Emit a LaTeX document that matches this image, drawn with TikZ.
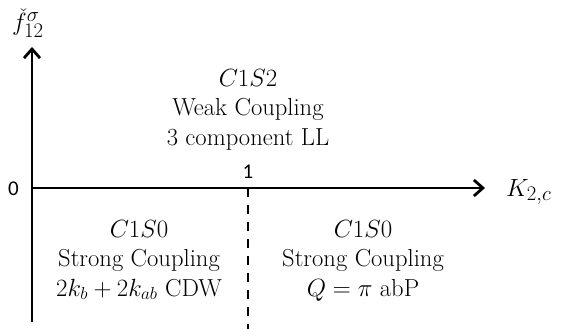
\documentclass[tikz,border=0pt]{standalone}
\usepackage{fontspec}
\newfontfamily\tickfont{Carlito}
\usetikzlibrary{arrows.meta}
\begin{document}
\begin{tikzpicture}[x=1pt,y=-1pt,
  axis/.style={line width=2.8pt,-{Straight Barb[length=9pt,width=16pt,line width=2.8pt]}},
  phase/.style={align=center,inner sep=0pt,anchor=north,font=\fontsize{24.6}{29.5}\selectfont},
  tick/.style={inner sep=0pt,font=\tickfont\fontsize{21}{24}\selectfont},
  divider/.style={line width=2.8pt,dash pattern=on 9pt off 8pt}]
\useasboundingbox (0,0) rectangle (568,329);
\coordinate (O) at (32,188);
\coordinate (ybot) at (32,322);
\coordinate (ytop) at (32,47);
\coordinate (xend) at (485,188);
\coordinate (one) at (248,188);
\coordinate (onebot) at (248,329);
\draw[divider] (one) -- (onebot);
\draw[axis] (ybot) -- (ytop);
\draw[axis] (O) -- (xend);
\node[tick,anchor=east] (zero) at (19,189) {0};
\node[tick,anchor=base] (onelabel) at (248,178) {1};
\node[inner sep=0pt,anchor=base west,font=\fontsize{31}{36}\selectfont] (xlabel) at (506,196) {$K_{2,c}$};
\node[inner sep=0pt,anchor=base west,font=\fontsize{28}{32}\selectfont] (ylabel) at (12,31) {$\check{f}^{\sigma}_{12}$};
\node[phase] (top) at (248,69) {$C1S2$\\Weak Coupling\\3 component LL};
\node[phase] (left) at (139,220) {$C1S0$\\Strong Coupling\\$2k_b+2k_{ab}$ CDW};
\node[phase] (right) at (363,220) {$C1S0$\\Strong Coupling\\$Q=\pi$ abP};
\end{tikzpicture}
\end{document}
